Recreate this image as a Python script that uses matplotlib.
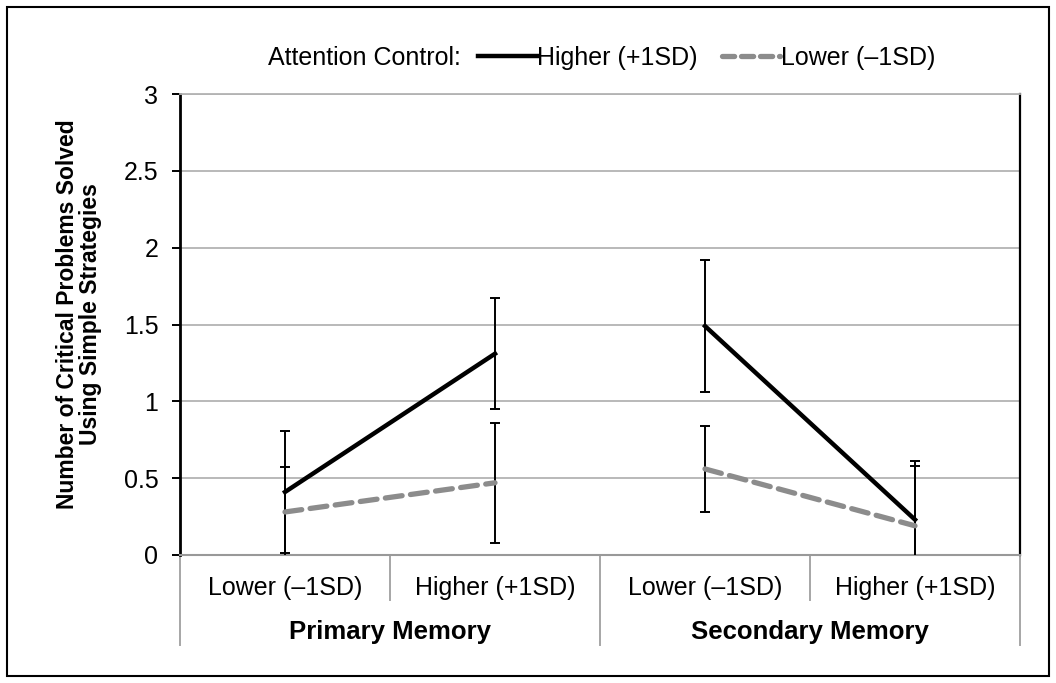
import matplotlib
matplotlib.use("Agg")
import matplotlib.pyplot as plt
from matplotlib.patches import Rectangle

plt.rcParams['font.family'] = ['Liberation Sans', 'DejaVu Sans']

# data
wmc_levels = ['Lower (\u20131SD)', 'Higher (+1SD)', 'Lower (\u20131SD)', 'Higher (+1SD)']
memory_groups = ['Primary Memory', 'Secondary Memory']
ac_labels = ['Higher (+1SD)', 'Lower (\u20131SD)']

# Higher attention control (+1SD)
high_pm = [0.41, 1.31]
high_sm = [1.49, 0.23]
high_pm_err = [0.40, 0.36]
high_sm_err = [0.43, 0.38]

# Lower attention control (-1SD)
low_pm = [0.28, 0.47]
low_sm = [0.56, 0.19]
low_pm_err = [0.29, 0.39]
low_sm_err = [0.28, 0.39]

yticks = [0, 0.5, 1, 1.5, 2, 2.5, 3]

W, H = 1056, 683
fig = plt.figure(figsize=(W / 100, H / 100), dpi=100)
ax = fig.add_axes([180 / W, 1 - 555 / H, 840 / W, 461 / H])

grid_col = '#b3b3b3'
fs = 18

for y in yticks[1:]:
    ax.axhline(y, color=grid_col, lw=1.3, zorder=0)

# lines drawn per memory group so the segments don't join across groups
xs_pm = [0.5, 1.5]
xs_sm = [2.5, 3.5]
for xs, hi, hie, lo, loe in [(xs_pm, high_pm, high_pm_err, low_pm, low_pm_err),
                             (xs_sm, high_sm, high_sm_err, low_sm, low_sm_err)]:
    ax.errorbar(xs, hi, yerr=hie, color='black', lw=3.2, ecolor='black',
                elinewidth=1.4, capsize=3.8, capthick=1.4, zorder=3)
    ax.errorbar(xs, lo, yerr=loe, color='#8c8c8c', lw=3.8, dashes=(3.2, 1.6),
                dash_capstyle='round', ecolor='black', elinewidth=1.4,
                capsize=3.8, capthick=1.4, zorder=4)

ax.set_xlim(0, 4)
ax.set_ylim(0, 3)
ax.set_yticks(yticks)
ax.set_yticklabels(['0', '0.5', '1', '1.5', '2', '2.5', '3'], fontsize=fs)
ax.set_xticks([])
ax.tick_params(axis='y', length=5.5, width=1.4, pad=10)

ax.spines['left'].set_linewidth(2)
ax.spines['left'].set_color('black')
ax.spines['right'].set_linewidth(1.6)
ax.spines['right'].set_color('black')
ax.spines['top'].set_color(grid_col)
ax.spines['top'].set_linewidth(1.3)
ax.spines['bottom'].set_color('#999999')
ax.spines['bottom'].set_linewidth(1.5)

# category separators below the axis
tr = ax.get_xaxis_transform()
for x in [1, 3]:
    ax.plot([x, x], [0, -0.098], color='#a6a6a6', lw=1.4, transform=tr, clip_on=False)
for x in [0, 2, 4]:
    ax.plot([x, x], [0, -0.195], color='#a6a6a6', lw=1.4, transform=tr, clip_on=False)

for i, lab in enumerate(wmc_levels):
    ax.text(i + 0.5, -0.071, lab, transform=tr, ha='center', va='center', fontsize=fs)
for i, lab in enumerate(memory_groups):
    ax.text(2 * i + 1, -0.168, lab, transform=tr, ha='center', va='center',
            fontsize=18.5, fontweight='bold')

fig.text(79 / W, 1 - 314 / H, 'Number of Critical Problems Solved\nUsing Simple Strategies',
         rotation=90, ha='center', va='center', fontsize=16.5, fontweight='bold',
         multialignment='center', linespacing=1.0)

# legend
fig.text(268 / W, 1 - 58 / H, 'Attention Control:', ha='left', va='center', fontsize=fs)
h1, = ax.plot([], [], color='black', lw=3.2)
h2, = ax.plot([], [], color='#8c8c8c', lw=3.8, dashes=(2.3, 1.3), dash_capstyle='round')
fig.legend([h1, h2], ac_labels, loc='center left', bbox_to_anchor=(478 / W, 1 - 58 / H),
           ncol=2, frameon=False, fontsize=fs, handlelength=2.35, handletextpad=0.02,
           columnspacing=0.95, borderpad=0, borderaxespad=0)

# outer frame
fig.patches.append(Rectangle((7 / W, 1 - 676 / H), 1042 / W, 669 / H, transform=fig.transFigure,
                             fill=False, edgecolor='black', lw=1.5))

fig.savefig('out.png', dpi=100)
